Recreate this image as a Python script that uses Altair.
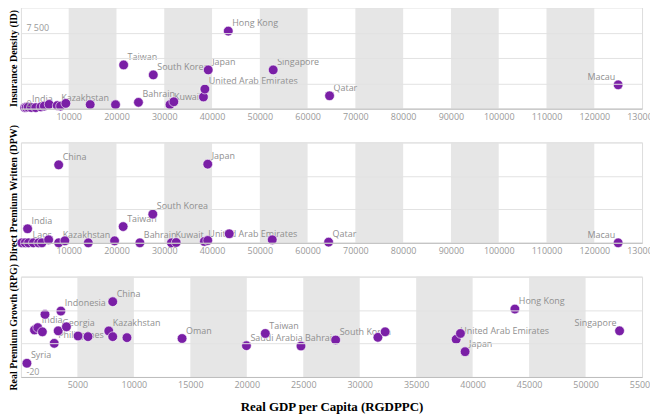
import altair as alt
import pandas as pd

# ---------------- data ----------------
# Panel 1: Insurance Density (ID)
id_gdp = [800, 1100, 1500, 2200, 3100, 4200, 4900, 5900, 7600, 8300, 9400, 14500, 19800,
          24600, 31200, 32000, 38200, 38500, 39200, 27700, 21500, 43400, 52800, 64600, 125000]
id_val = [100, 120, 150, 110, 100, 170, 250, 420, 300, 250, 520, 400, 390,
          620, 390, 680, 1150, 1930, 3820, 3330, 4310, 7650, 3820, 1270, 2350]
id_label = ["", "", "India", "", "", "", "", "", "Kazakhstan", "", "", "", "",
            "Bahrain", "Kuwait", "", "", "United Arab Emirates", "Japan", "South Korea", "Taiwan",
            "Hong Kong", "Singapore", "Qatar", "Macau"]
id_side = ["l"] * 24 + ["r"]

# Panel 2: Direct Premium Written (DPW)
dpw_gdp = [200, 900, 1400, 1600, 2600, 3700, 4400, 5800, 7900, 7900, 9200, 14100, 19600,
           21400, 24900, 27600, 31500, 32500, 38400, 39100, 39100, 43600, 52600, 64400, 125000]
dpw_val = [0, 0, 84, 0, 0, 0, 0, 18, 0, 466, 12, 0, 12,
           97, 0, 171, 0, 2, 8, 14, 470, 54, 18, 4, 0]
dpw_label = ["", "", "India", "Laos", "", "", "", "", "Kazakhstan", "China", "", "", "",
             "Taiwan", "Bahrain", "South Korea", "Kuwait", "", "United Arab Emirates", "", "Japan",
             "", "", "Qatar", "Macau"]
dpw_side = ["l"] * 24 + ["r"]

# Panel 3: Real Premium Growth (RPG)
rpg_gdp = [530, 1200, 1490, 1900, 2130, 2950, 3300, 3540, 4030, 5060, 5940, 7780, 8130, 8130,
           9390, 14270, 19970, 21640, 24800, 27870, 31610, 32250, 38540, 38920, 39330, 43740, 53010]
rpg_val = [-11.8, 8.1, 9.5, 7.0, 17.4, 0.1, 7.6, 19.4, 10.0, 4.5, 4.1, 7.5, 25.0, 4.1,
           3.5, 3.0, -1.3, 6.0, -1.5, 2.1, 3.7, 7.0, 2.5, 6.0, -4.9, 20.6, 7.6]
rpg_label = ["Syria", "", "India", "", "", "Philippines", "Georgia", "Indonesia", "", "", "",
             "Kazakhstan", "China", "", "", "Oman", "Saudi Arabia", "Taiwan", "Bahrain",
             "South Korea", "", "", "United Arab Emirates", "", "Japan", "Hong Kong", "Singapore"]
rpg_side = ["l"] * 26 + ["r"]

# shaded bands (x ranges)
bands_wide = [(10000, 20000), (30000, 40000), (50000, 60000), (70000, 80000),
              (90000, 100000), (110000, 120000)]
bands_narrow = [(5000, 10000), (15000, 20000), (25000, 30000), (35000, 40000), (45000, 50000)]

# ---------------- style ----------------
PURPLE = "#7A1FA6"
GREY_TXT = "#8f8f8f"
FONT = "Open Sans"
W = 625


def panel(gdp, vals, labels, sides, bands, xmax, xstep, ydom, ystep, ylabs, ytitle, h,
          xtitle=None):
    df = pd.DataFrame({"gdp": gdp, "val": vals, "label": labels, "side": sides})
    bdf = pd.DataFrame({"start": [b[0] for b in bands], "end": [b[1] for b in bands],
                        "lo": ydom[0], "hi": ydom[1]})
    xscale = alt.Scale(domain=[0, xmax], nice=False, zero=True)
    yscale = alt.Scale(domain=ydom, nice=False, zero=False)
    xticks = list(range(xstep, xmax + 1, xstep))
    yticks = list(range(ydom[0], ydom[1] + 1, ystep))
    expr = "''"
    for v, t in ylabs.items():
        expr = f"datum.value == {v} ? '{t}' : " + expr
    xaxis_kw = dict(values=xticks, grid=False, ticks=False, domainColor="#bdbdbd",
                    labelColor="#9a9a9a", labelFontSize=9, labelFont=FONT, labelPadding=4,
                    labelFlush=False, format="d", zindex=1)
    if xtitle:
        xaxis_kw.update(title=xtitle, titleFont="Liberation Serif", titleFontWeight="bold",
                        titleFontSize=13, titleColor="black", titlePadding=11)
    else:
        xaxis_kw.update(title=None)
    xaxis = alt.Axis(**xaxis_kw)
    yaxis = alt.Axis(values=yticks, grid=True, gridColor="#e2e2e2", domain=False, ticks=False,
                     labelExpr=expr, labelAlign="left", labelBaseline="bottom", labelPadding=-5,
                     labelColor="#9a9a9a", labelFontSize=9, labelFont=FONT,
                     title=ytitle, titleFont="Liberation Serif", titleFontWeight="bold",
                     titleFontSize=10, titleColor="black", titlePadding=2, zindex=1)

    rect = alt.Chart(bdf).mark_rect(color="#e6e6e6").encode(
        x=alt.X("start:Q", scale=xscale, axis=xaxis),
        x2="end:Q",
        y=alt.Y("lo:Q", scale=yscale, axis=yaxis),
        y2="hi:Q",
    )
    base = alt.Chart(df).encode(
        x=alt.X("gdp:Q", scale=xscale, axis=xaxis),
        y=alt.Y("val:Q", scale=yscale, axis=yaxis),
    )
    lab_l = base.transform_filter("datum.side == 'l'").mark_text(
        align="left", baseline="middle", dx=4, dy=-8, fontSize=9, font=FONT, color=GREY_TXT
    ).encode(text="label:N")
    lab_r = base.transform_filter("datum.side == 'r'").mark_text(
        align="right", baseline="middle", dx=-3, dy=-8, fontSize=9, font=FONT, color=GREY_TXT
    ).encode(text="label:N")
    pts = base.mark_circle(size=95, color=PURPLE, opacity=1, stroke="white", strokeWidth=0.6)
    return alt.layer(rect, lab_l, lab_r, pts).properties(width=W, height=h)


p1 = panel(id_gdp, id_val, id_label, id_side, bands_wide, 130000, 10000, [0, 10000], 2500,
           {7500: "7 500", 0: "0"}, "Insurance Density (ID)", 102)
p2 = panel(dpw_gdp, dpw_val, dpw_label, dpw_side, bands_wide, 130000, 10000, [0, 600], 200,
           {}, "Direct Premium Written (DPW)", 101)
p3 = panel(rpg_gdp, rpg_val, rpg_label, rpg_side, bands_narrow, 55000, 5000, [-20, 40], 20,
           {-20: "-20"}, "Real Premium Growth (RPG)", 101, xtitle="Real GDP per Capita (RGDPPC)")

chart = alt.vconcat(p1, p2, p3, spacing=34, bounds="flush").properties(
    padding={"left": 0, "top": -3, "right": -8, "bottom": 0}
).configure_view(stroke=None).configure(background="white")

chart.save("out.html", embed_options={"renderer": "svg", "actions": False})
